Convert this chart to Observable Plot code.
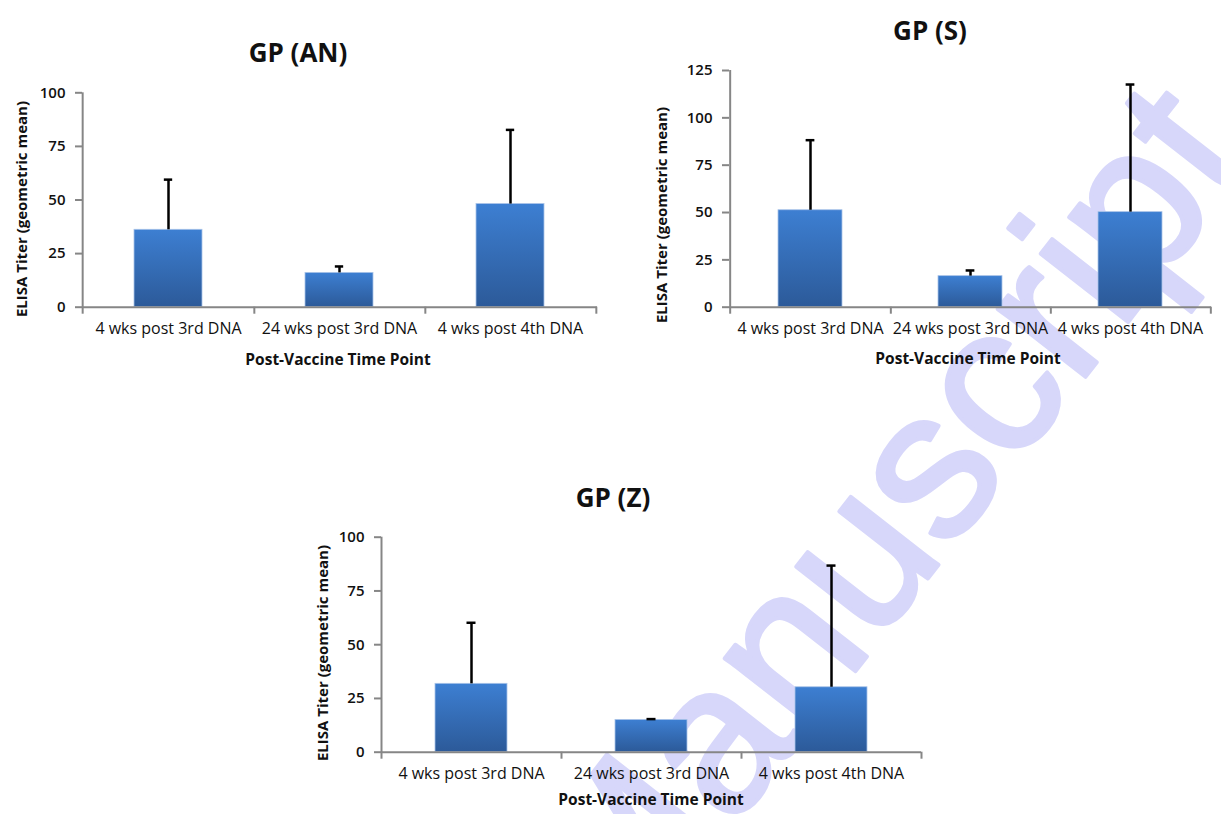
<!DOCTYPE html>
<html><head><meta charset="utf-8">
<script src="https://cdn.jsdelivr.net/npm/d3@7"></script>
<script src="https://cdn.jsdelivr.net/npm/@observablehq/plot@0.6"></script>
<style>
html,body{margin:0;padding:0;background:#fff;}
#page{position:relative;width:1221px;height:814px;overflow:hidden;font-family:"Open Sans",sans-serif;color:#111;}
.wm{position:absolute;left:0;top:0;z-index:0;}
.panel{position:absolute;z-index:1;}
.lbl{position:absolute;z-index:2;white-space:nowrap;font-weight:700;line-height:1;}
.title{font-size:26px;transform:translate(-50%,-50%);}
.xt{font-size:15.5px;transform:translate(-50%,-50%);}
.yt{font-size:15px;transform:translate(-50%,-50%) rotate(-90deg);}
</style></head>
<body><div id="page"></div>
<script>
// ---- data ----
const categories = ["4 wks post 3rd DNA", "24 wks post 3rd DNA", "4 wks post 4th DNA"];
const titles = ["GP (AN)", "GP (S)", "GP (Z)"];
const anValues = [36.1, 16.0, 48.1];
const anErrors = [23.4, 3.0, 34.6];
const sValues = [51.2, 16.4, 50.2];
const sErrors = [37.0, 3.0, 67.4];
const zValues = [31.8, 15.0, 30.2];
const zErrors = [28.4, 0.4, 56.6];
const anTicks = [0, 25, 50, 75, 100];
const sTicks = [0, 25, 50, 75, 100, 125];
const zTicks = [0, 25, 50, 75, 100];
const yLabel = "ELISA Titer (geometric mean)";
const xLabel = "Post-Vaccine Time Point";
const watermark = "Manuscript";

// ---- layout ----
const panels = [
  {id: "an", title: titles[0], values: anValues, errors: anErrors, ticks: anTicks,
   left: 0, top: 0, width: 610, height: 380, ml: 82, mr: 13, mt: 92.3, mb: 73.3,
   titleX: 298, titleY: 52, xtX: 338, xtY: 360, ytX: 21, ytY: 209},
  {id: "s", title: titles[1], values: sValues, errors: sErrors, ticks: sTicks,
   left: 610, top: 0, width: 611, height: 380, ml: 119, mr: 10, mt: 70, mb: 73.3,
   titleX: 930, titleY: 30, xtX: 968, xtY: 359, ytX: 661, ytY: 215},
  {id: "z", title: titles[2], values: zValues, errors: zErrors, ticks: zTicks,
   left: 290, top: 440, width: 640, height: 374, ml: 91, mr: 9, mt: 96.7, mb: 62.3,
   titleX: 613, titleY: 497, xtX: 651, xtY: 800, ytX: 322, ytY: 653}
];

const page = d3.select("#page");

// watermark (behind the charts)
const wm = page.append("svg").attr("class", "wm").attr("width", 1221).attr("height", 814);
wm.append("text")
  .attr("transform", "translate(940,563) rotate(-52)")
  .attr("text-anchor", "middle")
  .attr("font-family", "'Liberation Sans', Arial, sans-serif")
  .attr("font-size", 210)
  .attr("fill", "rgb(215,215,250)")
  .attr("stroke", "rgb(215,215,250)")
  .attr("stroke-width", 4)
  .attr("stroke-linejoin", "round")
  .text(watermark);

const axisGray = "#868686";
for (const p of panels) {
  const data = categories.map((c, i) => ({cat: c, value: p.values[i], top: p.values[i] + p.errors[i]}));
  const innerW = p.width - p.ml - p.mr;
  const step = innerW / categories.length;
  const pad = 0.6;
  const bw = step * (1 - pad);
  const capHalf = 4.5;
  const ymax = d3.max(p.ticks);
  const gid = "grad-" + p.id;
  const defs = () => {
    const d = d3.create("svg:defs");
    const g = d.append("linearGradient").attr("id", gid)
      .attr("x1", 0).attr("y1", 0).attr("x2", 0).attr("y2", 1);
    g.append("stop").attr("offset", "0%").attr("stop-color", "#3d7fd2");
    g.append("stop").attr("offset", "100%").attr("stop-color", "#2c5a99");
    return d.node();
  };
  const chart = Plot.plot({
    width: p.width, height: p.height,
    marginLeft: p.ml, marginRight: p.mr, marginTop: p.mt, marginBottom: p.mb,
    style: {background: "transparent", fontFamily: "'Open Sans', sans-serif", overflow: "visible", color: "#111"},
    x: {domain: categories, paddingInner: pad, paddingOuter: pad / 2, label: null},
    y: {domain: [0, ymax], label: null},
    marks: [
      defs,
      Plot.barY(data, {x: "cat", y: "value", fill: `url(#${gid})`, stroke: "#a9c3e8", strokeWidth: 0.8}),
      Plot.ruleX(data, {x: "cat", y1: "value", y2: "top", stroke: "#000", strokeWidth: 2.5}),
      Plot.tickY(data, {x: "cat", y: "top", stroke: "#000", strokeWidth: 2.5,
        insetLeft: bw / 2 - capHalf, insetRight: bw / 2 - capHalf}),
      Plot.ruleY([0], {stroke: axisGray, strokeWidth: 2}),
      Plot.ruleX([categories[0]], {x: d => d, dx: -step / 2, y1: ymax, y2: 0, insetBottom: -7,
        stroke: axisGray, strokeWidth: 2}),
      Plot.ruleX(categories, {x: d => d, dx: step / 2, y1: 0, y2: 0, insetBottom: -7,
        stroke: axisGray, strokeWidth: 2}),
      Plot.axisY({ticks: p.ticks, tickSize: 7, tickPadding: 10, stroke: axisGray, strokeWidth: 2,
        fontSize: 15, fontWeight: 600, tickFormat: d => String(d), label: null}),
      Plot.axisX({tickSize: 0, tickPadding: 15, fontSize: 16, label: null})
    ]
  });
  const holder = page.append("div").attr("class", "panel")
    .style("left", p.left + "px").style("top", p.top + "px");
  holder.node().appendChild(chart);
  page.append("div").attr("class", "lbl title").style("left", p.titleX + "px").style("top", p.titleY + "px").text(p.title);
  page.append("div").attr("class", "lbl xt").style("left", p.xtX + "px").style("top", p.xtY + "px").text(xLabel);
  page.append("div").attr("class", "lbl yt").style("left", p.ytX + "px").style("top", p.ytY + "px").text(yLabel);
}
</script>
</body></html>
